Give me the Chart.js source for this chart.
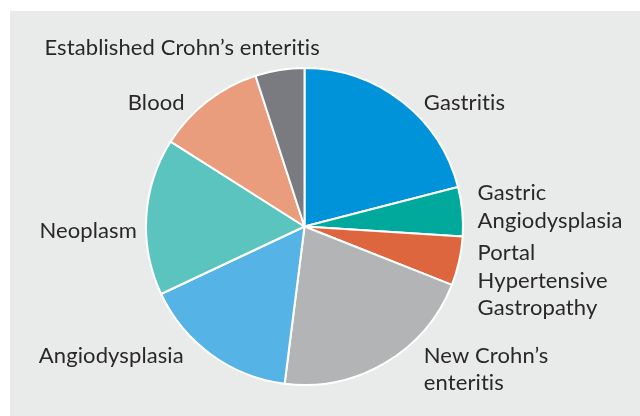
<!DOCTYPE html>
<html>
<head>
<meta charset="utf-8">
<script src="https://cdn.jsdelivr.net/npm/chart.js@4.4.1/dist/chart.umd.min.js"></script>
<style>
    body { margin: 0; background: #ffffff; }
    #wrap { position: absolute; left: 10px; top: 11px; width: 630px; height: 405px; background: #e9ebea; }
</style>
</head>
<body>
<div id="wrap"><canvas id="myChart" width="630" height="405"></canvas></div>
<script>
// categories, each entry split into the lines shown beside the pie
const categorias = [
    ["Gastritis"],
    ["Gastric", "Angiodysplasia"],
    ["Portal", "Hypertensive", "Gastropathy"],
    ["New Crohn’s", "enteritis"],
    ["Angiodysplasia"],
    ["Neoplasm"],
    ["Blood"],
    ["Established Crohn’s enteritis"],
];
// share of cases, %
const valores = [21, 5, 5, 21, 16, 16, 11, 5];
const colores = ["#0093d9", "#00a99b", "#de663e", "#b3b4b6", "#55b3e6", "#5bc4be", "#e99d7c", "#7a7b80"];

// where each label sits, in units of the pie radius from its centre: [dx, dy of first baseline, align]
const posEtiquetas = [
    [0.748, -0.729, "left"],
    [1.085, -0.164, "left"],
    [1.085, 0.212, "left"],
    [0.748, 0.853, "left"],
    [-0.757, 0.853, "right"],
    [-1.051, 0.074, "right"],
    [-0.751, -0.729, "right"],
    [0.096, -1.073, "right"],
];
const altoLinea = 27.5;

const etiquetasFuera = {
    id: "etiquetasFuera",
    afterDatasetsDraw(chart) {
        const ctx = chart.ctx;
        const arcos = chart.getDatasetMeta(0).data;
        ctx.save();
        ctx.font = "22px Lato";
        ctx.letterSpacing = "0.1px"; // no "ti" ligature, as in the original
        ctx.fillStyle = "#2a2728";
        ctx.textBaseline = "alphabetic";
        arcos.forEach((arco, i) => {
            const r = arco.outerRadius + 1;
            const p = posEtiquetas[i];
            ctx.textAlign = p[2];
            categorias[i].forEach((linea, j) => {
                ctx.fillText(linea, arco.x + p[0] * r, arco.y + p[1] * r + j * altoLinea);
            });
        });
        ctx.restore();
    },
};

const data = {
    labels: categorias.map((c) => c.join(" ")),
    datasets: [
        {
            data: valores,
            backgroundColor: colores,
            borderColor: "#ffffff",
            borderWidth: 2,
        },
    ],
};

const config = {
    type: "pie",
    data: data,
    options: {
        responsive: false,
        animation: false,
        layout: {
            padding: { left: 135, top: 56, right: 176, bottom: 30 },
        },
        plugins: {
            legend: { display: false },
            tooltip: { enabled: false },
        },
    },
    plugins: [etiquetasFuera],
};

const myChart = new Chart(document.getElementById("myChart"), config);
</script>
</body>
</html>
